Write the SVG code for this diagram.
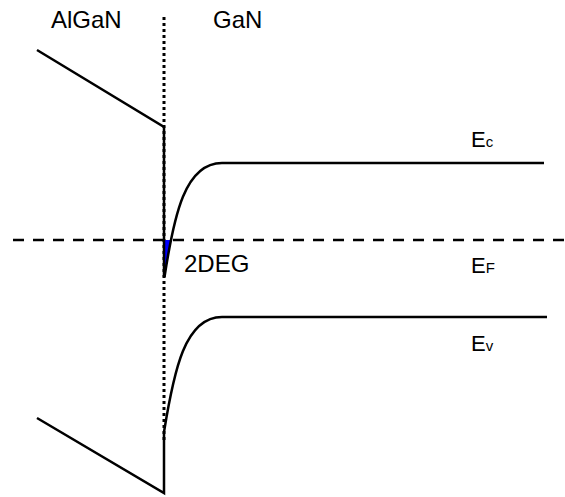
<svg xmlns="http://www.w3.org/2000/svg" width="565" height="497" viewBox="0 0 565 497">
<style>
.band{fill:none;stroke:#000;stroke-width:2.5}
.lbl{font-family:"Liberation Sans",Arial,sans-serif;font-size:24px;fill:#000}
.e{font-size:22px}
.sub{font-size:15px}
</style>
<rect width="565" height="497" fill="#fff"/>
<g id="interface">
<line x1="164" y1="17" x2="164" y2="443" stroke="#000" stroke-width="3" stroke-dasharray="3 3"/>
</g>
<g id="fermi">
<line x1="13" y1="240" x2="565" y2="240" stroke="#000" stroke-width="2.5" stroke-dasharray="11 9"/>
</g>
<g id="twodeg">
<path d="M164,240 L171,240 C168,252 166,264 164.5,277 Z" fill="#0000ff" stroke="none"/>
</g>
<g id="connectors">
<path class="band" d="M37,50 L164,127 L164,277"/>
<path class="band" d="M164.5,277 C174,215 185,163 222,163 L544,163"/>
<path class="band" d="M37,418 L164,493 L164,432"/>
<path class="band" d="M164,432 C174,370 185,317 222,317 L547,317"/>
</g>
<g id="labels">
<text class="lbl" x="51" y="28">AlGaN</text>
<text class="lbl" x="213" y="28">GaN</text>
<text class="lbl" x="184" y="272">2DEG</text>
<text class="lbl e" x="471" y="147">E<tspan class="sub">c</tspan></text>
<text class="lbl e" x="471" y="273">E<tspan class="sub">F</tspan></text>
<text class="lbl e" x="471" y="351">E<tspan class="sub">v</tspan></text>
</g>
</svg>
